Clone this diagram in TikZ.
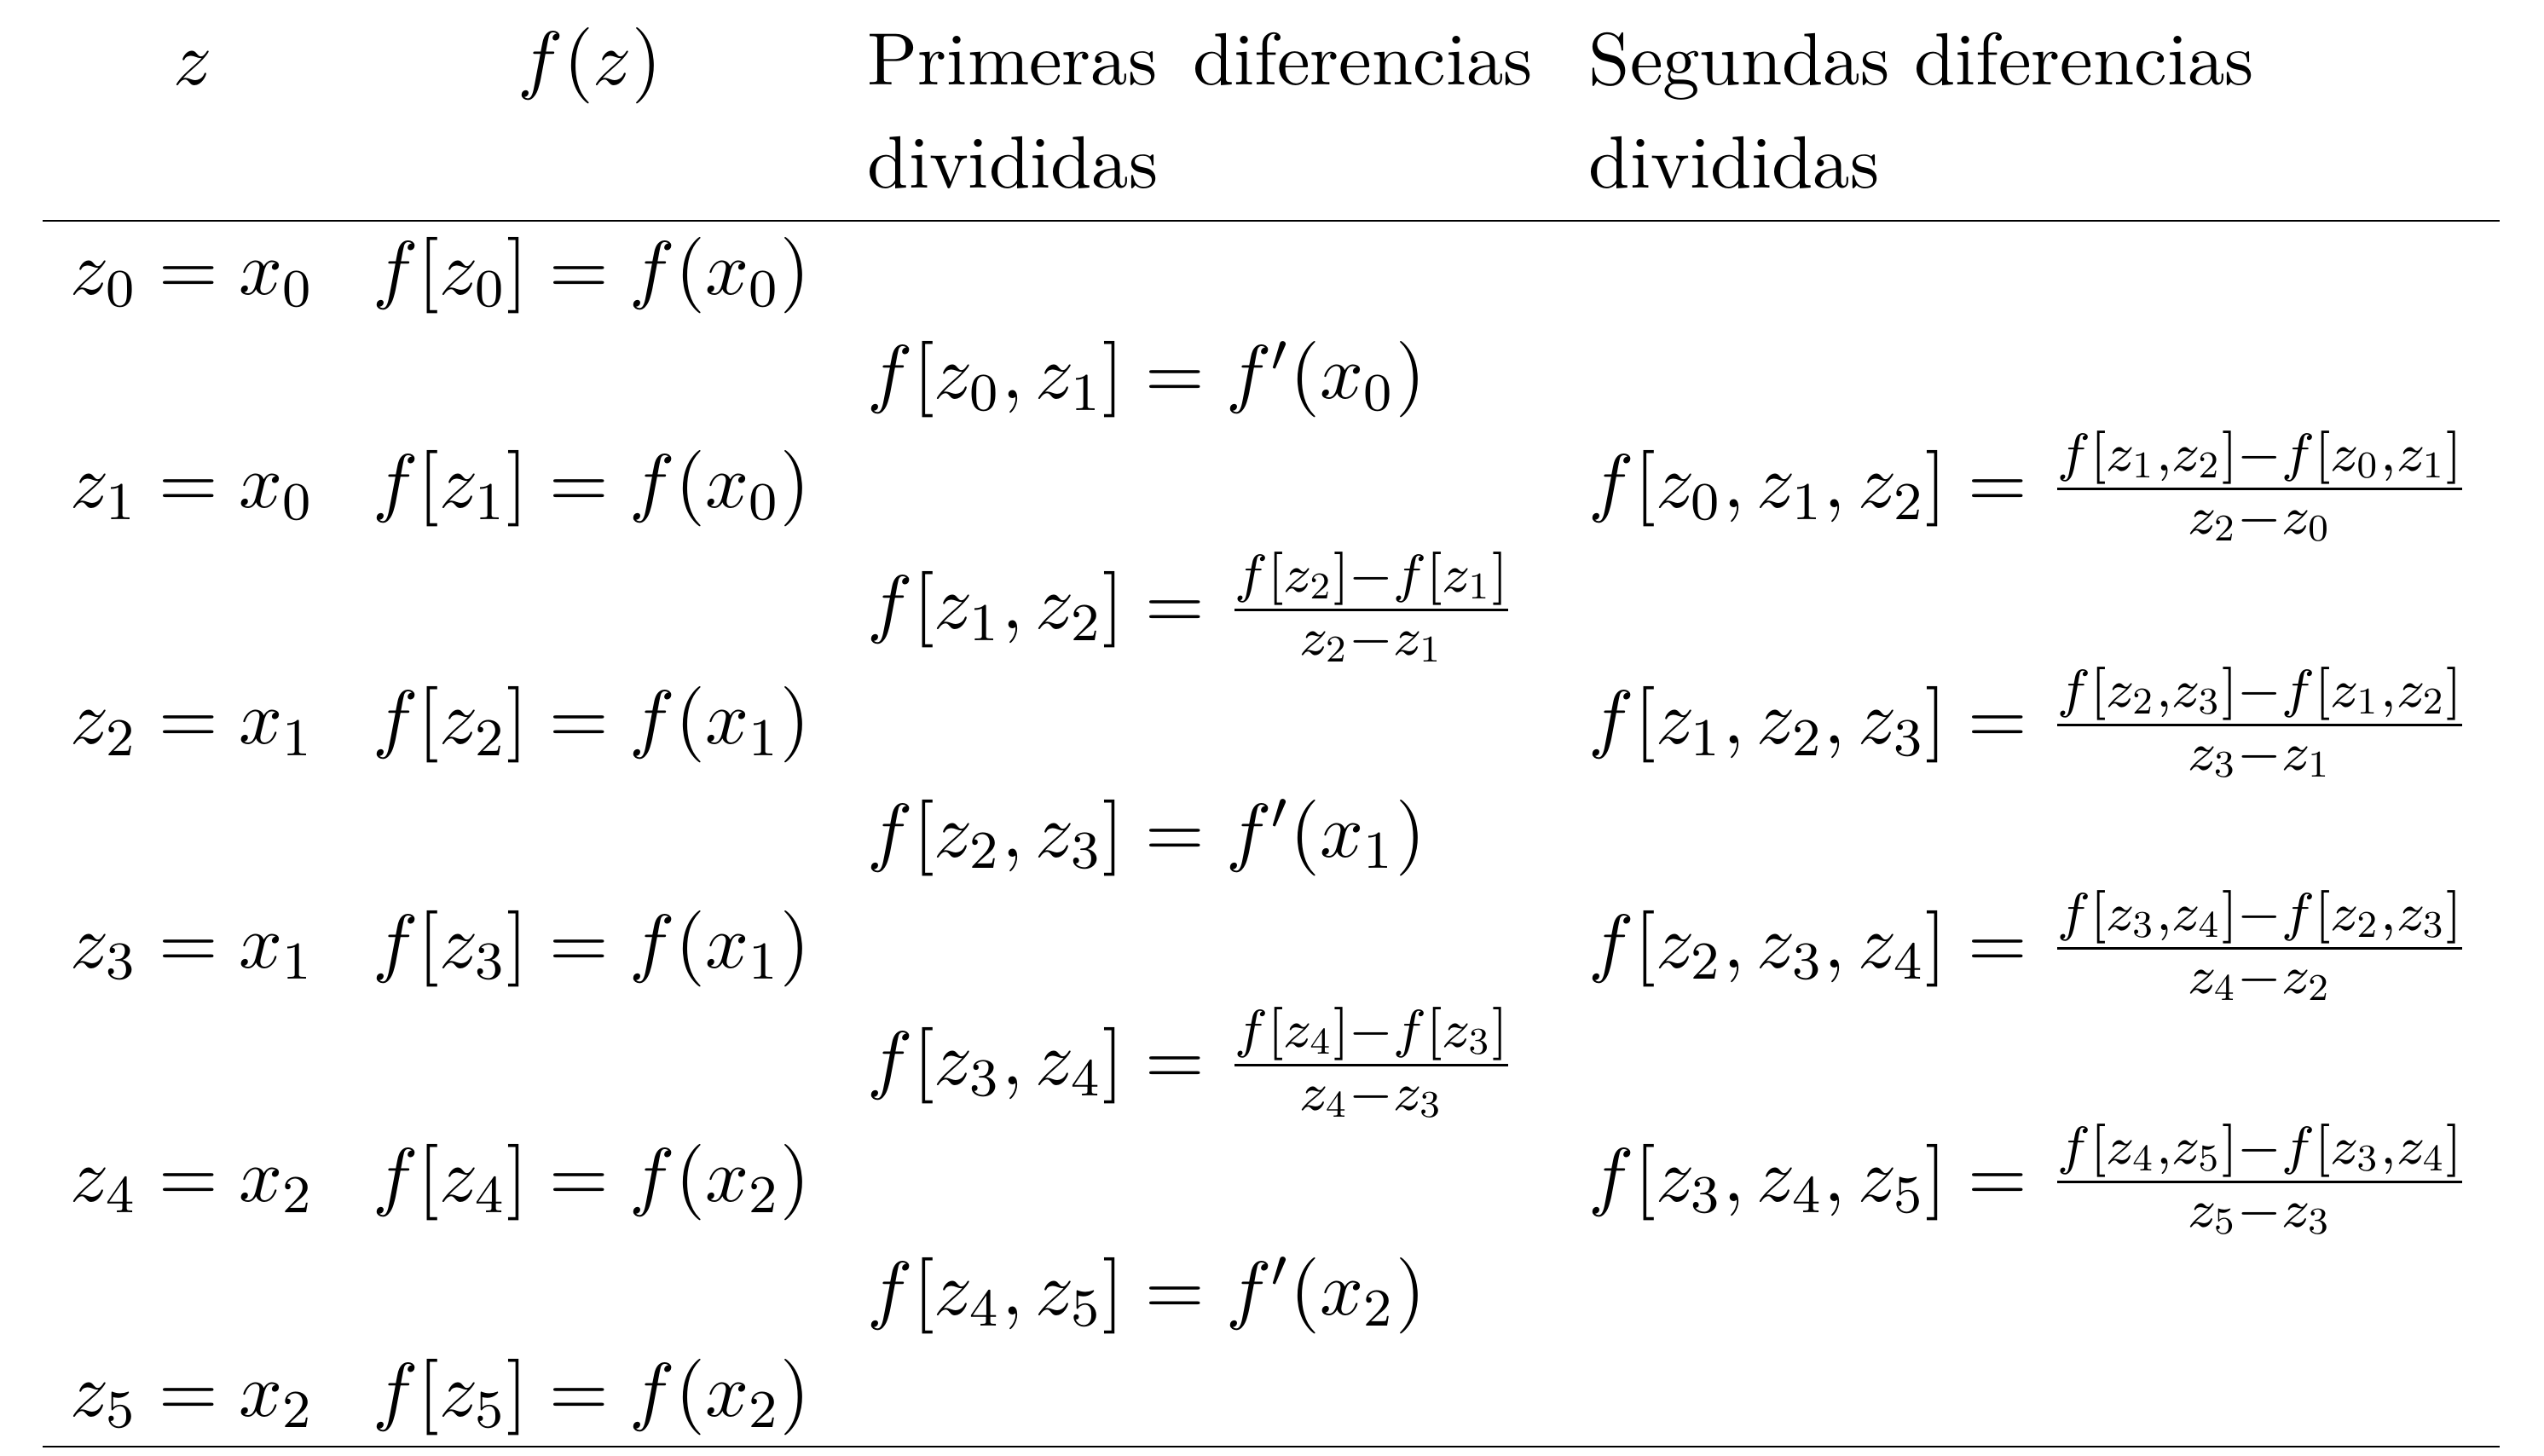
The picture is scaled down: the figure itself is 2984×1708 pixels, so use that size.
\documentclass[tikz,border=0pt]{standalone}
\usepackage{amsmath}
% math fonts: 10pt designs for text size, 8pt designs for the scripts
\DeclareFontFamily{OML}{cmmsc}{\skewchar\font127 }
\DeclareFontShape{OML}{cmmsc}{m}{it}{<-9.5>cmmi8 <9.5->cmmi10}{}
\DeclareFontFamily{OT1}{cmrsc}{\hyphenchar\font45 }
\DeclareFontShape{OT1}{cmrsc}{m}{n}{<-9.5>cmr8 <9.5->cmr10}{}
\DeclareFontFamily{OMS}{cmsysc}{\skewchar\font48 }
\DeclareFontShape{OMS}{cmsysc}{m}{n}{<-9.5>cmsy8 <9.5->cmsy10}{}
\DeclareSymbolFont{operators}{OT1}{cmrsc}{m}{n}
\DeclareSymbolFont{letters}{OML}{cmmsc}{m}{it}
\DeclareSymbolFont{symbols}{OMS}{cmsysc}{m}{n}
\DeclareMathSizes{10}{10.3}{7.2}{5.1}
\newlength\headw
\settowidth{\headw}{Segundas diferencias}

\begin{document}
\begin{tikzpicture}[x=0.1152pt,y=-0.1152pt,
    cell/.style={inner sep=0pt,anchor=base},
    cellw/.style={inner sep=0pt,anchor=base west},
    head/.style={cellw,text width=\headw,align=justify,font=\fontsize{10}{13.9}\selectfont},
    tabrule/.style={line width=0.3pt}]
  \useasboundingbox (0,0) rectangle (2984,1708);
  % header
  \node[cell] (hz) at (226,100) {$z$};
  \node[cell] (hfz) at (692,100) {$f(z)$};
  \node[head] (hprim) at (1016,100) {Primeras diferencias divididas};
  \node[head] (hseg) at (1862,100) {Segundas diferencias divididas};
  \coordinate (topl) at (50,259);
  \coordinate (topr) at (2932,259);
  \draw[tabrule] (topl) -- (topr);
  % z and f(z)
  \node[cell] (z0) at (226,346) {$z_0 = x_0$};
  \node[cell] (z1) at (226,596) {$z_1 = x_0$};
  \node[cell] (z2) at (226,873) {$z_2 = x_1$};
  \node[cell] (z3) at (226,1135) {$z_3 = x_1$};
  \node[cell] (z4) at (226,1409) {$z_4 = x_2$};
  \node[cell] (z5) at (226,1661) {$z_5 = x_2$};
  \node[cell] (fz0) at (694,346) {$f[z_0] = f(x_0)$};
  \node[cell] (fz1) at (694,596) {$f[z_1] = f(x_0)$};
  \node[cell] (fz2) at (694,873) {$f[z_2] = f(x_1)$};
  \node[cell] (fz3) at (694,1135) {$f[z_3] = f(x_1)$};
  \node[cell] (fz4) at (694,1409) {$f[z_4] = f(x_2)$};
  \node[cell] (fz5) at (694,1661) {$f[z_5] = f(x_2)$};
  % first divided differences
  \node[cellw] (dd01) at (1016,468) {$f[z_0, z_1] = f'(x_0)$};
  \node[cellw] (dd12) at (1016,738) {$f[z_1, z_2] = \frac{f[z_2]-f[z_1]}{z_2-z_1}$};
  \node[cellw] (dd23) at (1016,1005) {$f[z_2, z_3] = f'(x_1)$};
  \node[cellw] (dd34) at (1016,1272) {$f[z_3, z_4] = \frac{f[z_4]-f[z_3]}{z_4-z_3}$};
  \node[cellw] (dd45) at (1016,1542) {$f[z_4, z_5] = f'(x_2)$};
  % second divided differences
  \node[cellw] (dd012) at (1862,596) {$f[z_0, z_1, z_2] = \frac{f[z_1,z_2]-f[z_0,z_1]}{z_2-z_0}$};
  \node[cellw] (dd123) at (1862,873) {$f[z_1, z_2, z_3] = \frac{f[z_2,z_3]-f[z_1,z_2]}{z_3-z_1}$};
  \node[cellw] (dd234) at (1862,1135) {$f[z_2, z_3, z_4] = \frac{f[z_3,z_4]-f[z_2,z_3]}{z_4-z_2}$};
  \node[cellw] (dd345) at (1862,1409) {$f[z_3, z_4, z_5] = \frac{f[z_4,z_5]-f[z_3,z_4]}{z_5-z_3}$};
  \coordinate (botl) at (50,1697);
  \coordinate (botr) at (2932,1697);
  \draw[tabrule] (botl) -- (botr);
\end{tikzpicture}
\end{document}
